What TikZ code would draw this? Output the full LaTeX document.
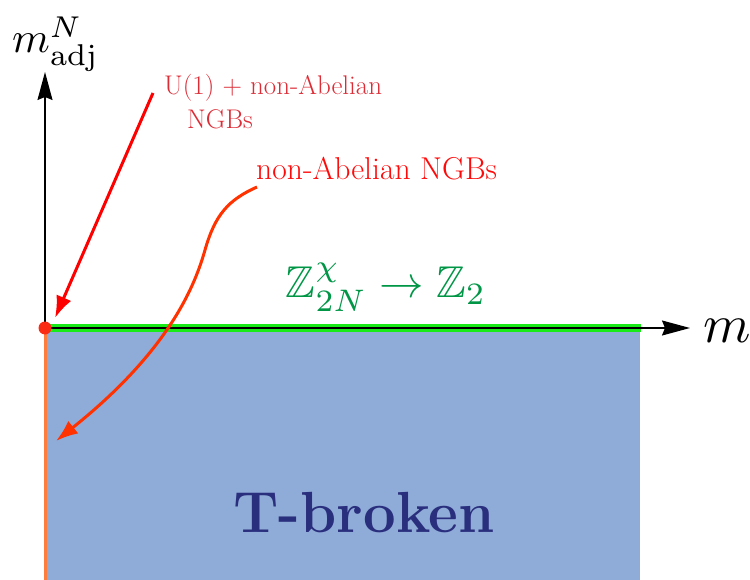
\documentclass[tikz,border=0pt]{standalone}
\usepackage{amssymb}
\usetikzlibrary{arrows.meta}
\definecolor{tblue}{RGB}{143,171,216}
\definecolor{tdark}{RGB}{42,47,125}
\definecolor{greenline}{RGB}{25,235,25}
\definecolor{zgreen}{RGB}{0,150,70}
\definecolor{orangeline}{RGB}{255,125,60}
\definecolor{dotred}{RGB}{250,45,20}
\definecolor{arrowred}{RGB}{255,0,0}
\definecolor{curvered}{RGB}{255,50,0}
\definecolor{uonered}{RGB}{220,45,55}
\definecolor{nared}{RGB}{255,10,10}
\begin{document}
\begin{tikzpicture}[x=1pt,y=-1pt,
  axis/.style={line width=1.2pt, -{Stealth[length=28pt,width=15pt,inset=3pt]}},
  redarrow/.style={line width=3pt, -{Latex[length=22pt,width=16pt]}},
  lab/.style={inner sep=0pt}]
\useasboundingbox (0,0) rectangle (750,580);
\coordinate (O) at (45,328);
\coordinate (BR) at (640,580);
\coordinate (OB) at (45,580);
\coordinate (G) at (641,328);
\coordinate (XT) at (690,328);
\coordinate (YT) at (45,72);
\fill[tblue] (O) rectangle (BR);
\draw[orangeline, line width=3pt] (O) -- (OB);
\draw[greenline, line width=8pt] (O) -- (G);
\draw[axis] (O) -- (XT);
\draw[axis] (O) -- (YT);
\fill[dotred] (O) circle (6.5);
\node[lab, anchor=base west, text=uonered, font=\fontsize{27}{34}\selectfont, align=left] (t1) at (164,129) {U(1) + non-Abelian\\\hspace*{23pt}NGBs};
\node[lab, anchor=base west, text=nared, font=\fontsize{31.6}{36}\selectfont] (t2) at (256,180) {non-Abelian NGBs};
\node[lab, anchor=base, text=zgreen] (t3) at (386,298) {\scalebox{4.45}{$\mathbb{Z}_{2N}^{\chi}\to\mathbb{Z}_2$}};
\node[lab, anchor=base, text=tdark, font=\fontsize{58}{62}\selectfont\bfseries] (t4) at (364,532) {T-broken};
\node[lab, anchor=base west] (xl) at (703,342) {\scalebox{5.4}{$m$}};
\node[lab, anchor=base west] (yl) at (12,53) {\scalebox{4.3}{$m^N_{\mathrm{adj}}$}};
\coordinate (A1s) at (153,93);
\coordinate (A1e) at (55,318);
\coordinate (A2s) at (257,187);
\coordinate (A2m) at (205,250);
\coordinate (A2e) at (56,441);
\draw[redarrow, arrowred] (A1s) -- (A1e);
\draw[redarrow, curvered] (A2s) .. controls (228,200) and (215,215) .. (A2m) .. controls (195,285) and (170,350) .. (A2e);
\end{tikzpicture}
\end{document}
